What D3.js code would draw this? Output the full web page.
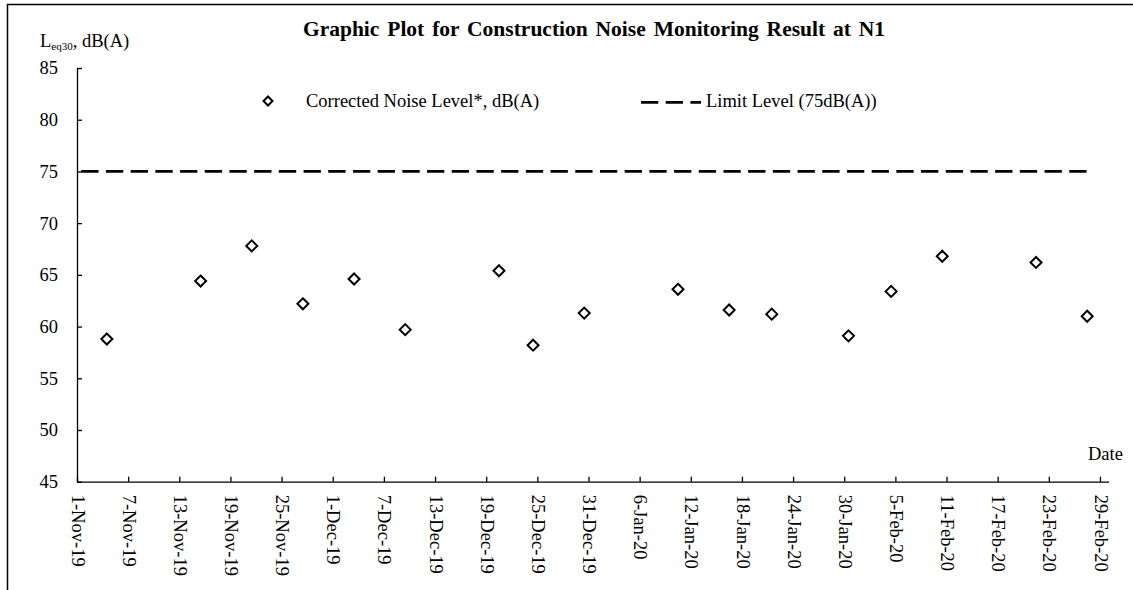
<!DOCTYPE html>
<html><head><meta charset="utf-8">
<script src="https://cdn.jsdelivr.net/npm/d3@7"></script>
<style>
html,body{margin:0;padding:0;background:#fff;}
svg{display:block;}
text{font-family:"Liberation Serif","Times New Roman",serif;fill:#000;}
</style></head>
<body><svg id="c" width="1133" height="590"></svg>
<script>
// ---- data ----
const title = "Graphic Plot for Construction Noise Monitoring Result at N1";
const seriesName = "Corrected Noise Level*, dB(A)";
const limitName = "Limit Level (75dB(A))";
const measureDates = ["4-Nov-19","15-Nov-19","21-Nov-19","27-Nov-19","3-Dec-19","9-Dec-19",
  "20-Dec-19","24-Dec-19","30-Dec-19","10-Jan-20","16-Jan-20","21-Jan-20","30-Jan-20",
  "4-Feb-20","10-Feb-20","21-Feb-20","27-Feb-20"];
const noiseLevels = [58.8,64.4,67.8,62.2,64.6,59.7,65.4,58.2,61.3,63.6,61.6,61.2,59.1,63.4,66.8,66.2,61.0];
const limitLevel = 75;
const limitDates = ["1-Nov-19","27-Feb-20"];
const xTickLabels = ["1-Nov-19","7-Nov-19","13-Nov-19","19-Nov-19","25-Nov-19","1-Dec-19","7-Dec-19",
  "13-Dec-19","19-Dec-19","25-Dec-19","31-Dec-19","6-Jan-20","12-Jan-20","18-Jan-20","24-Jan-20",
  "30-Jan-20","5-Feb-20","11-Feb-20","17-Feb-20","23-Feb-20","29-Feb-20"];
const xDomain = ["1-Nov-19","1-Mar-20"];
const yTicks = [45,50,55,60,65,70,75,80,85];
const yDomain = [45,85];

// ---- drawing ----
const parse = d3.timeParse("%d-%b-%y");
const mid = d => d3.timeHour.offset(parse(d), 12); // values sit at the centre of their day
const svg = d3.select("#c");
const FS = 18.5;

// frame
svg.append("path").attr("d","M7.5,600 L7.5,4.5 L1140,4.5")
  .attr("fill","none").attr("stroke","#000").attr("stroke-width",1.5);

const x = d3.scaleTime().domain(xDomain.map(parse)).range([77, 1108.5]);
const y = d3.scaleLinear().domain(yDomain).range([481.7, 68]);

// y axis
const yAxis = svg.append("g").attr("transform","translate(77,0)")
  .call(d3.axisRight(y).tickValues(yTicks).tickSize(5).tickSizeOuter(0).tickFormat(d3.format("d")));
yAxis.select(".domain").attr("stroke","#000").attr("stroke-width",1.3);
yAxis.selectAll(".tick line").attr("stroke","#000").attr("stroke-width",1.3);
yAxis.selectAll(".tick text").attr("x",-19).attr("text-anchor","end")
  .attr("font-size",FS).attr("font-family","Liberation Serif");

// x axis
const xAxis = svg.append("g").attr("transform","translate(0,481.7)")
  .call(d3.axisTop(x).tickValues(xTickLabels.map(parse)).tickSize(5).tickSizeOuter(0)
     .tickFormat((d,i)=>xTickLabels[i]));
xAxis.select(".domain").attr("stroke","#000").attr("stroke-width",1.3);
xAxis.selectAll(".tick line").attr("stroke","#000").attr("stroke-width",1.3);
xAxis.selectAll(".tick text")
  .attr("font-size",FS).attr("font-family","Liberation Serif")
  .attr("text-anchor","start").attr("x",0).attr("y",0).attr("dy","0.32em")
  .attr("transform","translate(0,13) rotate(90)");

// limit line
const line = d3.line().x(d=>x(mid(d))).y(()=>y(limitLevel));
svg.append("path").attr("d",line(limitDates)).attr("fill","none")
  .attr("stroke","#000").attr("stroke-width",2.75).attr("stroke-dasharray","17.3,7.4");

// points
const diamond = (s)=>`M0,${-s}L${s},0L0,${s}L${-s},0Z`;
svg.append("g").selectAll("path").data(noiseLevels).join("path")
  .attr("transform",(v,i)=>`translate(${x(mid(measureDates[i]))},${y(v)})`)
  .attr("d",diamond(5.5)).attr("fill","#fff").attr("stroke","#000").attr("stroke-width",2);

// title
svg.append("text").attr("x",594).attr("y",36).attr("text-anchor","middle")
  .attr("font-size",21.5).attr("font-weight","bold").attr("word-spacing","2.5px").text(title);

// y label
const yl = svg.append("text").attr("x",40).attr("y",47).attr("font-size",FS);
yl.append("tspan").text("L");
yl.append("tspan").attr("font-size",11).attr("dy",3).text("eq30");
yl.append("tspan").attr("dy",-3).text(", dB(A)");

// x label
svg.append("text").attr("x",1088).attr("y",460).attr("font-size",FS).text("Date");

// legend
svg.append("path").attr("transform","translate(268,101)").attr("d",diamond(4.5))
  .attr("fill","#fff").attr("stroke","#000").attr("stroke-width",2);
svg.append("text").attr("x",306).attr("y",107).attr("font-size",FS).text(seriesName);
svg.append("path").attr("d","M641,102.3L701,102.3").attr("stroke","#000")
  .attr("stroke-width",2.75).attr("stroke-dasharray","17.3,7.4");
svg.append("text").attr("x",706).attr("y",107).attr("font-size",FS).text(limitName);
</script></body></html>
